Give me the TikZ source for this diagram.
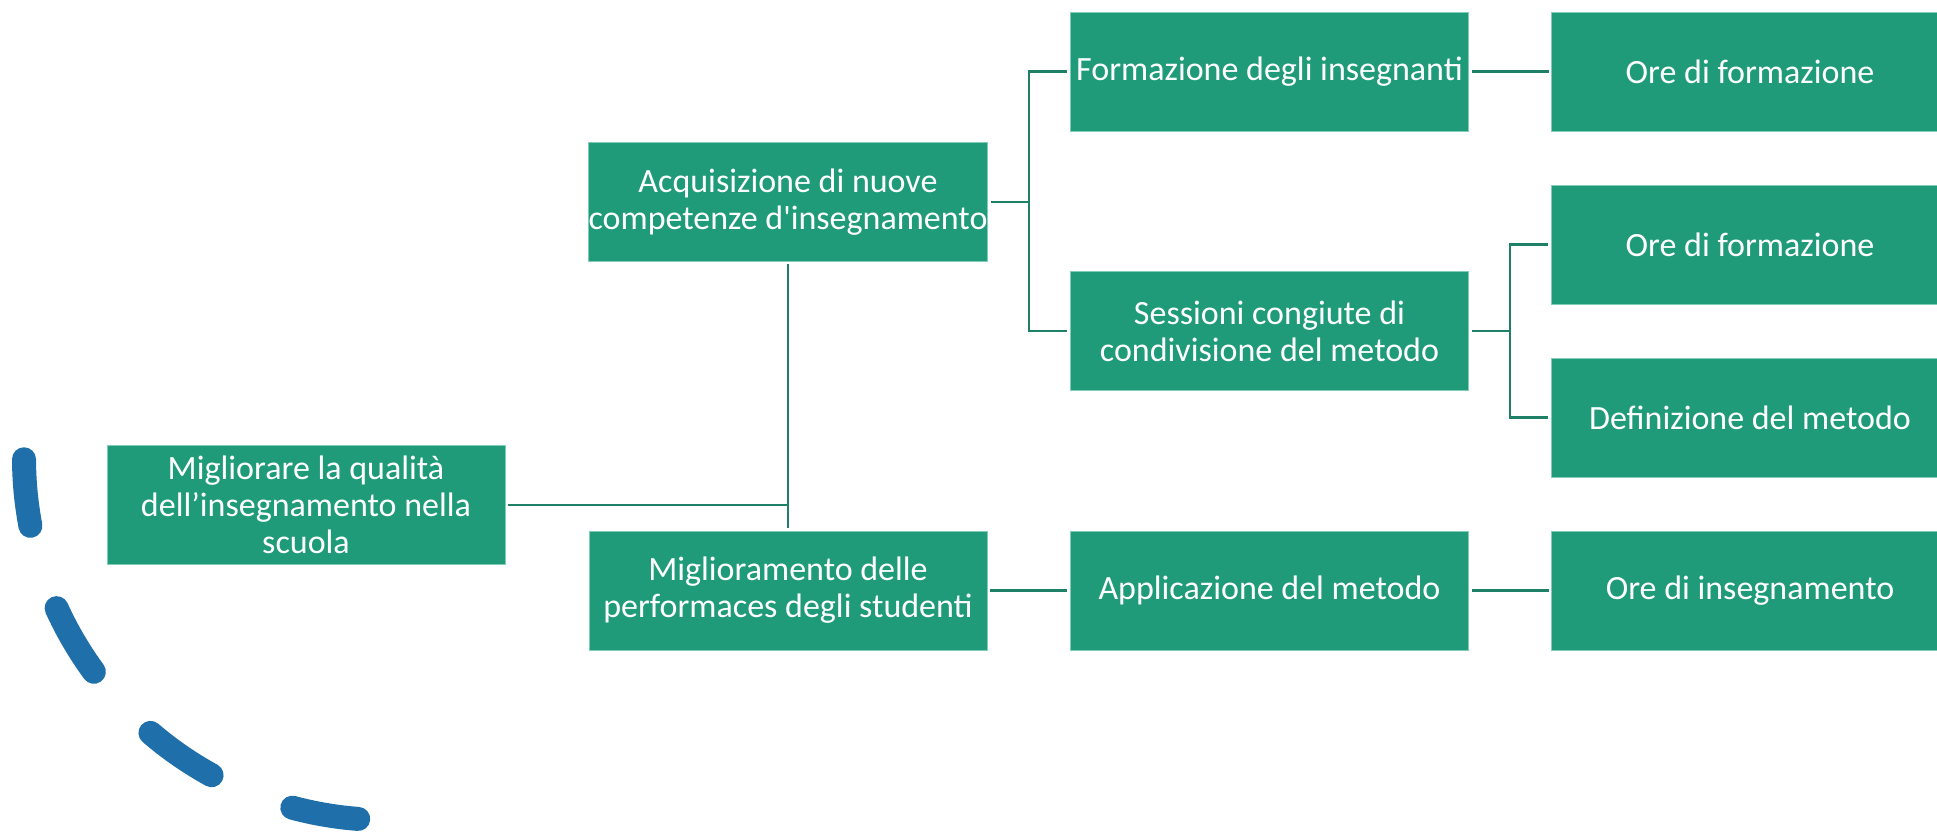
\documentclass[tikz,border=0pt]{standalone}
\usepackage{fontspec}
\setmainfont{Carlito}[Ligatures=TeXOff]
\definecolor{boxfill}{RGB}{31,155,122}
\definecolor{boxedge}{RGB}{130,205,185}
\definecolor{linkcol}{RGB}{30,128,102}
\definecolor{arcblue}{RGB}{31,111,171}
\tikzset{
  leaf/.style={rectangle, fill=boxfill, draw=boxedge, line width=0.4pt,
    minimum width=199pt, minimum height=59.5pt, inner sep=0pt,
    text=white, align=center, font=\fontsize{17pt}{18.6pt}\selectfont},
  link/.style={draw=linkcol, line width=1.1pt},
  arcdash/.style={draw=arcblue, line width=12pt, line cap=round, line join=round}
}
\begin{document}
\begin{tikzpicture}[x=0.5pt, y=-0.5pt]
\useasboundingbox (0,0) rectangle (1937,832);
\clip (0,0) rectangle (1937,832);

% boxes
\node[leaf] (root) at (306,505) {Migliorare la qualità\\dell’insegnamento nella\\scuola};
\node[leaf] (acq)  at (788,202) {Acquisizione di nuove\\competenze d'insegnamento};
\node[leaf] (migl) at (788,590.5) {Miglioramento delle\\performaces degli studenti};
\node[leaf] (form) at (1269.5,71.5) {Formazione degli insegnanti};
\node[leaf] (sess) at (1269.5,331) {Sessioni congiute di\\condivisione del metodo};
\node[leaf] (appl) at (1269.5,590.5) {Applicazione del metodo};
\node[leaf] (ore1) at (1750,71.5) {Ore di formazione};
\node[leaf] (ore2) at (1750,244.5) {Ore di formazione};
\node[leaf] (defm) at (1750,417.5) {Definizione del metodo};
\node[leaf] (orei) at (1750,590.5) {Ore di insegnamento};

% junction points
\coordinate (b0) at (788,505);
\coordinate (b1) at (1029,202);
\coordinate (b2) at (1510,331);

% connectors
\draw[link] ([xshift=1.5pt]root.east) -- (b0);
\draw[link] ([yshift=-1pt]acq.south) -- ([yshift=1.5pt]migl.north);
\draw[link] ([xshift=1.5pt]acq.east) -- (b1);
\draw[link] ([xshift=-1.5pt]form.west) -| (b1) |- ([xshift=-1.5pt]sess.west);
\draw[link] ([xshift=1.5pt]sess.east) -- (b2);
\draw[link] ([xshift=-1.5pt]ore2.west) -| (b2) |- ([xshift=-1.5pt]defm.west);
\draw[link] ([xshift=1.5pt]form.east) -- ([xshift=-1pt]ore1.west);
\draw[link] ([xshift=1.5pt]migl.east) -- ([xshift=-1.5pt]appl.west);
\draw[link] ([xshift=1.5pt]appl.east) -- ([xshift=-1pt]orei.west);

% dashed blue arc (circle centre at pixel 386,458, radius 362 px = 181pt)
\coordinate (arcc) at (386,458);
\begin{scope}[shift={(arcc)}]
\foreach \a/\b in {180.2/190.8, 204.5/216.2, 229.4/241.2, 255.0/265.6}{
  \draw[arcdash] plot[domain=\a:\b, samples=14, smooth] (\x:181pt);
}
\end{scope}
\end{tikzpicture}
\end{document}
